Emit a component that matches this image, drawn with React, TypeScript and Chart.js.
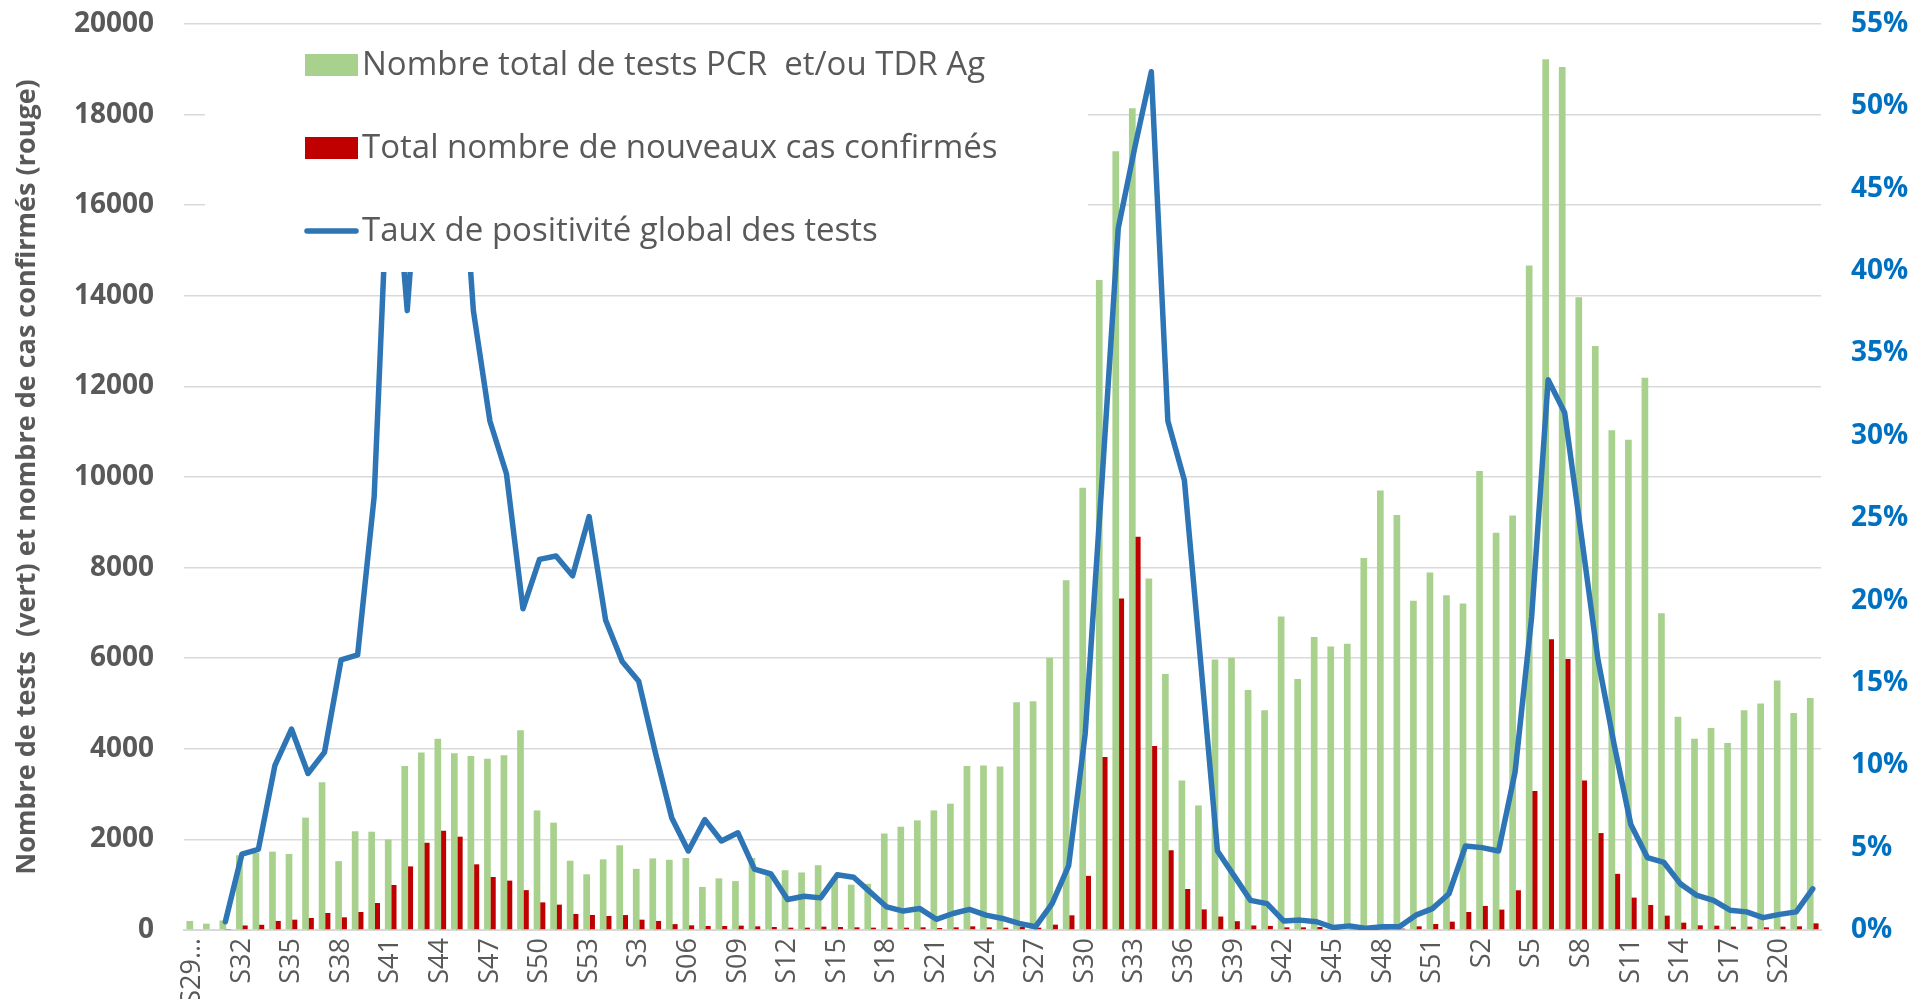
import React, { useEffect, useRef } from 'react';
import { Chart, registerables } from 'chart.js';

Chart.register(...registerables);

// Week labels: 2020 S29..S53, 2021 S1..S52, 2022 S1..S22
const weekLabels: string[] = [
  'S29…', 'S30', 'S31', 'S32', 'S33', 'S34', 'S35', 'S36', 'S37', 'S38', 'S39', 'S40', 'S41', 'S42', 'S43', 'S44', 'S45', 'S46', 'S47', 'S48', 'S49', 'S50', 'S51', 'S52', 'S53',
  'S1', 'S2', 'S3', 'S04', 'S05', 'S06', 'S07', 'S08', 'S09', 'S10', 'S11', 'S12', 'S13', 'S14', 'S15', 'S16', 'S17', 'S18', 'S19', 'S20', 'S21', 'S22', 'S23', 'S24', 'S25', 'S26',
  'S27', 'S28', 'S29', 'S30', 'S31', 'S32', 'S33', 'S34', 'S35', 'S36', 'S37', 'S38', 'S39', 'S40', 'S41', 'S42', 'S43', 'S44', 'S45', 'S46', 'S47', 'S48', 'S49', 'S50', 'S51', 'S52',
  'S1', 'S2', 'S3', 'S4', 'S5', 'S6', 'S7', 'S8', 'S9', 'S10', 'S11', 'S12', 'S13', 'S14', 'S15', 'S16', 'S17', 'S18', 'S19', 'S20', 'S21', 'S22',
];

// Nombre total de tests PCR et/ou TDR Ag (green)
const testsTotal: number[] = [
  200, 140, 210, 1650, 1700, 1730, 1680, 2480, 3260, 1520, 2180, 2170, 2000, 3620, 3920, 4220, 3900, 3840, 3780, 3860, 4410, 2640, 2370, 1530, 1230,
  1560, 1870, 1350, 1580, 1550, 1590, 950, 1140, 1080, 1590, 1200, 1320, 1270, 1430, 1150, 1000, 1020, 2130, 2280, 2420, 2640, 2790, 3620, 3630, 3610, 5030,
  5050, 6010, 7720, 9760, 14350, 17190, 18140, 7760, 5650, 3300, 2750, 5970, 6010, 5300, 4850, 6920, 5540, 6470, 6260, 6320, 8210, 9700, 9160, 7270, 7890, 7390,
  7210, 10130, 8770, 9150, 14670, 19220, 19050, 13970, 12890, 11030, 10820, 12190, 6990, 4710, 4220, 4460, 4130, 4850, 5000, 5510, 4790, 5120,
];

// Total nombre de nouveaux cas confirmés (red)
const newCases: number[] = [
  0, 0, 10, 100, 115, 200, 228, 265, 376, 280, 398, 596, 993, 1404, 1926, 2191, 2060, 1450, 1170, 1090, 880, 610, 560, 354, 332,
  310, 330, 228, 200, 130, 103, 88, 88, 96, 81, 66, 52, 52, 74, 66, 59, 52, 52, 52, 59, 44, 59, 81, 59, 52, 74,
  52, 118, 324, 1195, 3820, 7320, 8680, 4060, 1760, 905, 455, 297, 194, 100, 90, 59, 59, 66, 40, 30, 20, 30, 30, 81, 133, 184,
  398, 531, 450, 877, 3070, 6420, 5980, 3300, 2140, 1240, 715, 553, 317, 162, 103, 96, 74, 74, 59, 74, 81, 147,
];

// Taux de positivité global des tests (%)
const positivityRate: (number | null)[] = [
  null, null, 0.5, 4.6, 4.9, 10.0, 12.2, 9.5, 10.8, 16.4, 16.7, 26.3, 50, 37.6, 51, 53, 52, 37.6, 30.9, 27.7, 19.5, 22.5, 22.7, 21.5, 25.1,
  18.8, 16.3, 15.1, 10.8, 6.8, 4.8, 6.7, 5.4, 5.9, 3.7, 3.4, 1.85, 2.05, 1.95, 3.35, 3.2, 2.3, 1.4, 1.15, 1.3, 0.65, 1.0, 1.25, 0.9, 0.7, 0.4,
  0.2, 1.6, 3.9, 11.9, 27, 42.6, 47.5, 52.1, 30.9, 27.3, 16.1, 4.8, 3.3, 1.8, 1.6, 0.55, 0.6, 0.5, 0.15, 0.25, 0.1, 0.2, 0.2, 0.9, 1.3, 2.2,
  5.1, 5.0, 4.8, 9.6, 19, 33.4, 31.4, 24, 16.5, 11.2, 6.4, 4.4, 4.1, 2.8, 2.1, 1.8, 1.2, 1.1, 0.75, 0.95, 1.1, 2.5,
];

const seriesNames = [
  'Nombre total de tests PCR  et/ou TDR Ag',
  'Total nombre de nouveaux cas confirmés',
  'Taux de positivité global des tests',
];

const leftAxisTitle = 'Nombre de tests  (vert) et nombre de cas confirmés (rouge)';

const GREEN = '#A9D18E';
const RED = '#C00000';
const BLUE = '#2E75B6';
const GRAY_TEXT = '#595959';
const FONT = "'Open Sans', 'DejaVu Sans', sans-serif";

const boxLegendPlugin = {
  id: 'boxLegend',
  afterDatasetsDraw(chart: any) {
    const { ctx, chartArea } = chart;
    ctx.save();
    // white legend box (hides what is under it, as in the reference)
    ctx.fillStyle = '#ffffff';
    ctx.fillRect(205, chartArea.top + 1, 883, 272 - chartArea.top - 1);
    const rows = [65, 148, 231];
    const sx = 305;
    const sw = 53;
    ctx.font = `33px ${FONT}`;
    ctx.textBaseline = 'middle';
    ctx.textAlign = 'left';
    chart.data.datasets.forEach((ds: any, k: number) => {
      const y = rows[k];
      if (ds.type === 'line') {
        ctx.strokeStyle = ds.borderColor;
        ctx.lineWidth = 5.5;
        ctx.lineCap = 'round';
        ctx.beginPath();
        ctx.moveTo(sx + 2, y);
        ctx.lineTo(sx + sw - 2, y);
        ctx.stroke();
      } else {
        ctx.fillStyle = ds.backgroundColor;
        ctx.fillRect(sx, y - 11, sw, 22);
      }
      ctx.fillStyle = GRAY_TEXT;
      ctx.fillText(ds.label, sx + sw + 4, y + 1);
    });
    ctx.restore();
  },
};

export default function App() {
  const canvasRef = useRef<HTMLCanvasElement | null>(null);

  useEffect(() => {
    const canvas = canvasRef.current;
    if (!canvas) return;
    const chart = new Chart(canvas, {
      type: 'bar',
      data: {
        labels: weekLabels,
        datasets: [
          {
            type: 'bar',
            label: seriesNames[0],
            data: testsTotal,
            backgroundColor: GREEN,
            yAxisID: 'y',
            order: 1,
            categoryPercentage: 0.6,
            barPercentage: 1.35,
          } as any,
          {
            type: 'bar',
            label: seriesNames[1],
            data: newCases,
            backgroundColor: RED,
            yAxisID: 'y',
            order: 2,
            categoryPercentage: 0.6,
            barPercentage: 1.35,
          } as any,
          {
            type: 'line',
            label: seriesNames[2],
            data: positivityRate,
            borderColor: BLUE,
            backgroundColor: BLUE,
            borderWidth: 5.5,
            pointRadius: 0,
            tension: 0,
            borderJoinStyle: 'round',
            borderCapStyle: 'round',
            yAxisID: 'y2',
            order: 0,
          } as any,
        ],
      },
      options: {
        responsive: false,
        animation: false,
        devicePixelRatio: 1,
        layout: { padding: { top: 24, left: 0, right: 0, bottom: 0 }, autoPadding: false },
        plugins: {
          legend: { display: false },
          tooltip: { enabled: false },
        },
        scales: {
          x: {
            grid: { display: false, drawTicks: false },
            border: { display: true, color: '#D9D9D9', width: 2 },
            ticks: {
              autoSkip: false,
              maxRotation: 90,
              minRotation: 90,
              padding: 8,
              color: GRAY_TEXT,
              font: { family: FONT, size: 27 },
              callback: function (this: any, value: any, index: number) {
                return index % 3 === 0 ? this.getLabelForValue(value) : '';
              },
            },
            afterFit: (s: any) => {
              s.height = 69;
              s.paddingLeft = 0;
              s.paddingRight = 0;
              s.paddingTop = 0;
              s.paddingBottom = 0;
            },
          },
          y: {
            position: 'left',
            min: 0,
            max: 20000,
            grid: { color: '#D9D9D9', lineWidth: 1.5, drawTicks: false },
            border: { display: false },
            ticks: {
              stepSize: 2000,
              padding: 30,
              color: GRAY_TEXT,
              font: { family: FONT, size: 28, weight: 'bold' },
              callback: (v: any) => String(v),
            },
            title: {
              display: true,
              text: leftAxisTitle,
              color: GRAY_TEXT,
              font: { family: FONT, size: 27, weight: 'bold' },
              padding: { top: 11, bottom: 0 },
            },
            afterFit: (s: any) => {
              s.width = 184;
              s.paddingTop = 0;
              s.paddingBottom = 0;
            },
          },
          y2: {
            position: 'right',
            min: 0,
            max: 55,
            grid: { display: false, drawTicks: false },
            border: { display: false },
            ticks: {
              stepSize: 5,
              padding: 30,
              color: '#0070C0',
              font: { family: FONT, size: 28, weight: 'bold' },
              callback: (v: any) => `${v}%`,
            },
            afterFit: (s: any) => {
              s.width = 90;
              s.paddingTop = 0;
              s.paddingBottom = 0;
            },
          },
        },
      },
      plugins: [boxLegendPlugin],
    } as any);
    return () => chart.destroy();
  }, []);

  return (
    <div style={{ position: 'fixed', left: 0, top: 0, width: 1911, height: 999, background: '#ffffff' }}>
      <canvas ref={canvasRef} width={1911} height={999} style={{ display: 'block' }} />
    </div>
  );
}
